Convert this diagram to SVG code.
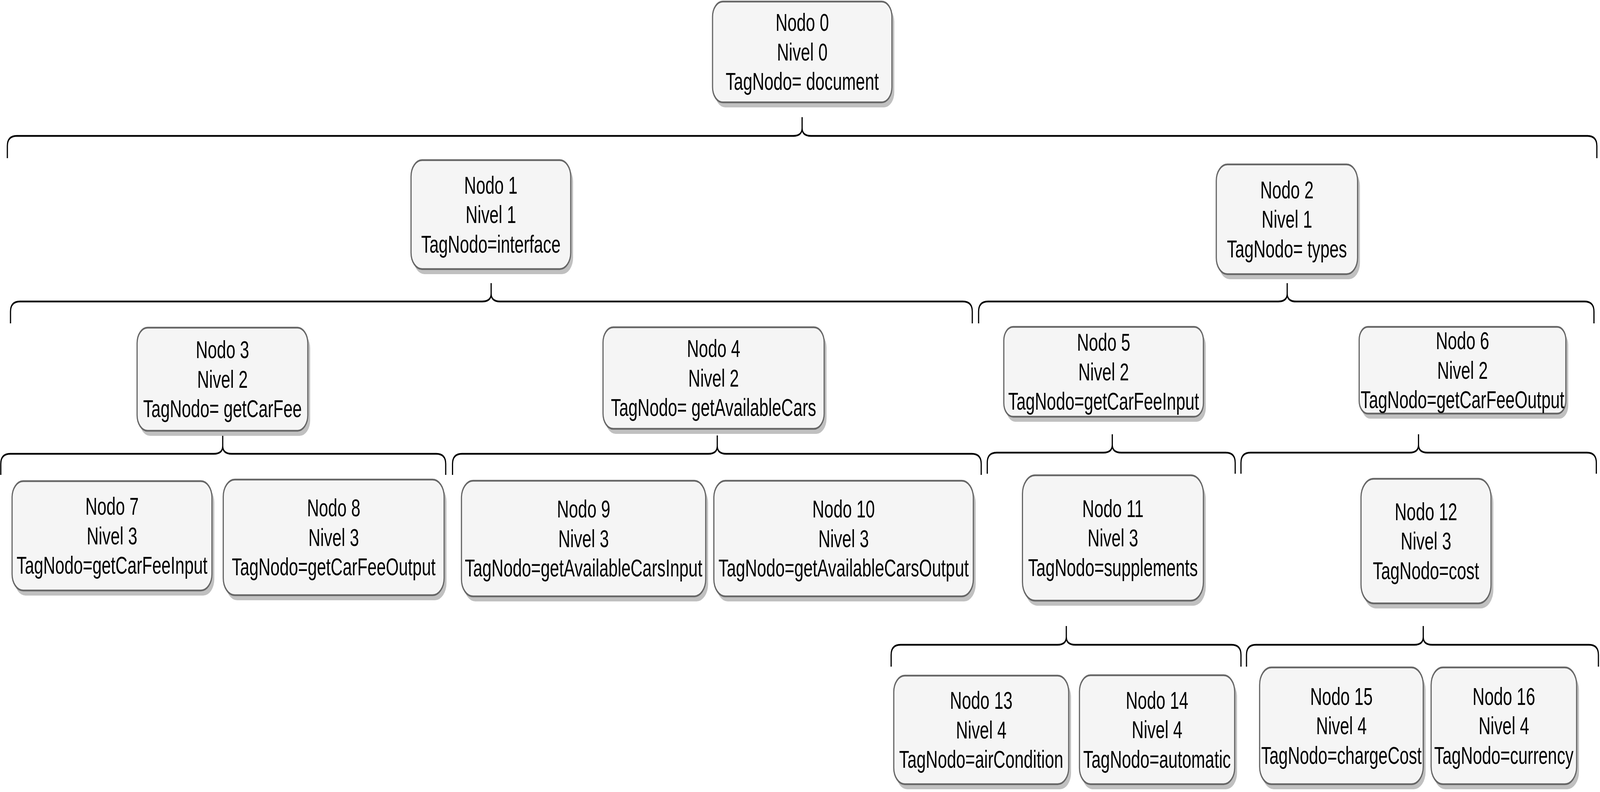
<svg xmlns="http://www.w3.org/2000/svg" width="6092" height="2028" viewBox="0 0 6092 2028" preserveAspectRatio="none" style="max-width:100vw;max-height:100vh">
<style>
.sh{fill:#c0c0c0;stroke:none}
.bx{fill:#f5f5f5;stroke:#666666;stroke-width:4.5}
.t{font-family:"Liberation Sans",Arial,sans-serif;font-size:63px;fill:#000000;text-anchor:middle}
.br{fill:none;stroke:#000000;stroke-width:4.5;stroke-linejoin:round}
</style>
<rect width="6092" height="2028" fill="#ffffff"/>
<g id="connectors">
<path class="br" d="M28,405 L28,374 Q28,348 64,348 L3020,348 Q3054,348 3054,328 L3054,300 M3054,328 Q3054,348 3088,348 L6044,348 Q6080,348 6080,374 L6080,405"/>
<path class="br" d="M40,828 L40,798 Q40,772 76,772 L1836,772 Q1870,772 1870,752 L1870,725 M1870,752 Q1870,772 1904,772 L3666,772 Q3702,772 3702,798 L3702,828"/>
<path class="br" d="M3726,828 L3726,798 Q3726,772 3762,772 L4867,772 Q4901,772 4901,752 L4901,725 M4901,752 Q4901,772 4935,772 L6033,772 Q6069,772 6069,798 L6069,828"/>
<path class="br" d="M3,1216 L3,1188 Q3,1162 39,1162 L814,1162 Q848,1162 848,1142 L848,1115 M848,1142 Q848,1162 882,1162 L1661,1162 Q1697,1162 1697,1188 L1697,1216"/>
<path class="br" d="M1723,1216 L1723,1188 Q1723,1162 1759,1162 L2697,1162 Q2731,1162 2731,1142 L2731,1115 M2731,1142 Q2731,1162 2765,1162 L3700,1162 Q3736,1162 3736,1188 L3736,1216"/>
<path class="br" d="M3759,1213 L3759,1185 Q3759,1159 3795,1159 L4201,1159 Q4235,1159 4235,1139 L4235,1112 M4235,1139 Q4235,1159 4269,1159 L4667,1159 Q4703,1159 4703,1185 L4703,1213"/>
<path class="br" d="M4725,1213 L4725,1185 Q4725,1159 4761,1159 L5367,1159 Q5401,1159 5401,1139 L5401,1112 M5401,1139 Q5401,1159 5435,1159 L6042,1159 Q6078,1159 6078,1185 L6078,1213"/>
<path class="br" d="M3393,1707 L3393,1677 Q3393,1651 3429,1651 L4026,1651 Q4060,1651 4060,1631 L4060,1603 M4060,1631 Q4060,1651 4094,1651 L4689,1651 Q4725,1651 4725,1677 L4725,1707"/>
<path class="br" d="M4746,1707 L4746,1677 Q4746,1651 4782,1651 L5385,1651 Q5419,1651 5419,1631 L5419,1603 M5419,1631 Q5419,1651 5453,1651 L6050,1651 Q6086,1651 6086,1677 L6086,1707"/>
</g>
<g id="node0">
<rect class="sh" x="2722" y="17" width="683" height="258" rx="39"/>
<rect class="bx" x="2713" y="4" width="683" height="258" rx="39"/>
<text class="t"><tspan x="3054.5" y="79">Nodo 0</tspan><tspan x="3054.5" y="155">Nivel 0</tspan><tspan x="3054.5" y="230">TagNodo= document</tspan></text>
</g>
<g id="node1">
<rect class="sh" x="1574" y="423" width="608" height="279" rx="42"/>
<rect class="bx" x="1565" y="410" width="608" height="279" rx="42"/>
<text class="t"><tspan x="1869" y="496">Nodo 1</tspan><tspan x="1869" y="571.5">Nivel 1</tspan><tspan x="1869" y="647">TagNodo=interface</tspan></text>
</g>
<g id="node2">
<rect class="sh" x="4640" y="434" width="538" height="281" rx="42"/>
<rect class="bx" x="4631" y="421" width="538" height="281" rx="42"/>
<text class="t"><tspan x="4900" y="508">Nodo 2</tspan><tspan x="4900" y="583.5">Nivel 1</tspan><tspan x="4900" y="659">TagNodo= types</tspan></text>
</g>
<g id="node3">
<rect class="sh" x="531" y="852" width="650" height="264" rx="40"/>
<rect class="bx" x="522" y="839" width="650" height="264" rx="40"/>
<text class="t"><tspan x="847" y="917.5">Nodo 3</tspan><tspan x="847" y="993">Nivel 2</tspan><tspan x="847" y="1068.5">TagNodo= getCarFee</tspan></text>
</g>
<g id="node4">
<rect class="sh" x="2305" y="851" width="842" height="260" rx="39"/>
<rect class="bx" x="2296" y="838" width="842" height="260" rx="39"/>
<text class="t"><tspan x="2717" y="914.5">Nodo 4</tspan><tspan x="2717" y="990">Nivel 2</tspan><tspan x="2717" y="1065.5">TagNodo= getAvailableCars</tspan></text>
</g>
<g id="node5">
<rect class="sh" x="3831" y="850" width="760" height="230" rx="35"/>
<rect class="bx" x="3822" y="837" width="760" height="230" rx="35"/>
<text class="t"><tspan x="4202" y="898.5">Nodo 5</tspan><tspan x="4202" y="974">Nivel 2</tspan><tspan x="4202" y="1049.5">TagNodo=getCarFeeInput</tspan></text>
</g>
<g id="node6">
<rect class="sh" x="5184" y="850" width="787" height="222" rx="33"/>
<rect class="bx" x="5175" y="837" width="787" height="222" rx="33"/>
<text class="t"><tspan x="5568.5" y="894.5">Nodo 6</tspan><tspan x="5568.5" y="970">Nivel 2</tspan><tspan x="5568.5" y="1045.5">TagNodo=getCarFeeOutput</tspan></text>
</g>
<g id="node7">
<rect class="sh" x="55" y="1245" width="761" height="280" rx="42"/>
<rect class="bx" x="46" y="1232" width="761" height="280" rx="42"/>
<text class="t"><tspan x="426.5" y="1318.5">Nodo 7</tspan><tspan x="426.5" y="1394">Nivel 3</tspan><tspan x="426.5" y="1469.5">TagNodo=getCarFeeInput</tspan></text>
</g>
<g id="node8">
<rect class="sh" x="859" y="1241" width="841" height="296" rx="44"/>
<rect class="bx" x="850" y="1228" width="841" height="296" rx="44"/>
<text class="t"><tspan x="1270.5" y="1322.5">Nodo 8</tspan><tspan x="1270.5" y="1398">Nivel 3</tspan><tspan x="1270.5" y="1473.5">TagNodo=getCarFeeOutput</tspan></text>
</g>
<g id="node9">
<rect class="sh" x="1766" y="1244" width="930" height="296" rx="44"/>
<rect class="bx" x="1757" y="1231" width="930" height="296" rx="44"/>
<text class="t"><tspan x="2222" y="1325.5">Nodo 9</tspan><tspan x="2222" y="1401">Nivel 3</tspan><tspan x="2222" y="1476.5">TagNodo=getAvailableCarsInput</tspan></text>
</g>
<g id="node10">
<rect class="sh" x="2727" y="1244" width="988" height="296" rx="44"/>
<rect class="bx" x="2718" y="1231" width="988" height="296" rx="44"/>
<text class="t"><tspan x="3212" y="1325.5">Nodo 10</tspan><tspan x="3212" y="1401">Nivel 3</tspan><tspan x="3212" y="1476.5">TagNodo=getAvailableCarsOutput</tspan></text>
</g>
<g id="node11">
<rect class="sh" x="3902" y="1230" width="689" height="321" rx="48"/>
<rect class="bx" x="3893" y="1217" width="689" height="321" rx="48"/>
<text class="t"><tspan x="4237.5" y="1324">Nodo 11</tspan><tspan x="4237.5" y="1399.5">Nivel 3</tspan><tspan x="4237.5" y="1475">TagNodo=supplements</tspan></text>
</g>
<g id="node12">
<rect class="sh" x="5191" y="1239" width="495" height="319" rx="48"/>
<rect class="bx" x="5182" y="1226" width="495" height="319" rx="48"/>
<text class="t"><tspan x="5429.5" y="1332">Nodo 12</tspan><tspan x="5429.5" y="1407.5">Nivel 3</tspan><tspan x="5429.5" y="1483">TagNodo=cost</tspan></text>
</g>
<g id="node13">
<rect class="sh" x="3412" y="1743" width="666" height="278" rx="42"/>
<rect class="bx" x="3403" y="1730" width="666" height="278" rx="42"/>
<text class="t"><tspan x="3736" y="1815.5">Nodo 13</tspan><tspan x="3736" y="1891">Nivel 4</tspan><tspan x="3736" y="1966.5">TagNodo=airCondition</tspan></text>
</g>
<g id="node14">
<rect class="sh" x="4119" y="1742" width="591" height="279" rx="42"/>
<rect class="bx" x="4110" y="1729" width="591" height="279" rx="42"/>
<text class="t"><tspan x="4405.5" y="1815">Nodo 14</tspan><tspan x="4405.5" y="1890.5">Nivel 4</tspan><tspan x="4405.5" y="1966">TagNodo=automatic</tspan></text>
</g>
<g id="node15">
<rect class="sh" x="4805" y="1722" width="623" height="299" rx="45"/>
<rect class="bx" x="4796" y="1709" width="623" height="299" rx="45"/>
<text class="t"><tspan x="5107.5" y="1805">Nodo 15</tspan><tspan x="5107.5" y="1880.5">Nivel 4</tspan><tspan x="5107.5" y="1956">TagNodo=chargeCost</tspan></text>
</g>
<g id="node16">
<rect class="sh" x="5458" y="1722" width="554" height="299" rx="45"/>
<rect class="bx" x="5449" y="1709" width="554" height="299" rx="45"/>
<text class="t"><tspan x="5726" y="1805">Nodo 16</tspan><tspan x="5726" y="1880.5">Nivel 4</tspan><tspan x="5726" y="1956">TagNodo=currency</tspan></text>
</g>
</svg>
